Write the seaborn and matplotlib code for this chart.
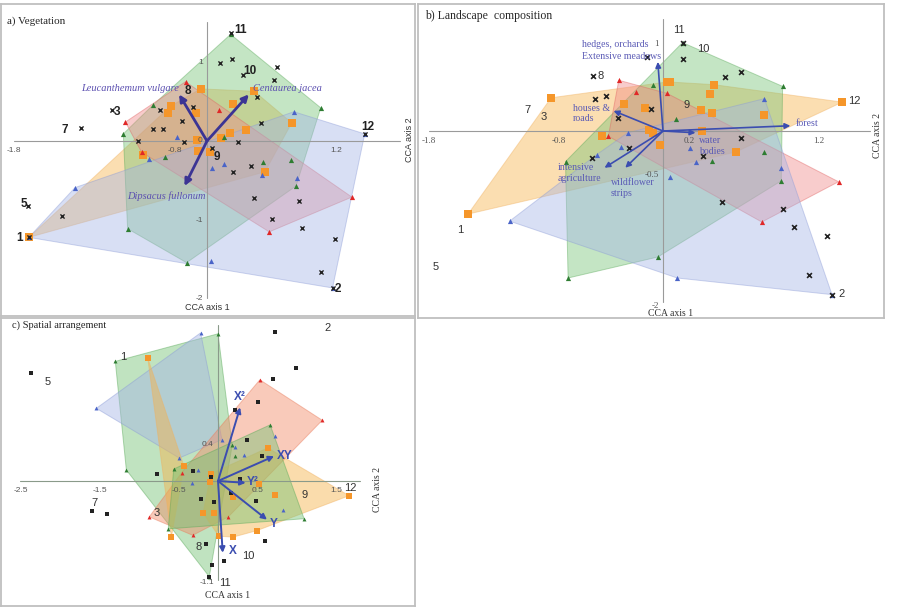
import matplotlib
matplotlib.use("Agg")
import matplotlib.pyplot as plt
import seaborn as sns
import pandas as pd

sns.set_theme(style="white")
SANS = ['Liberation Sans', 'DejaVu Sans']
SERIF = ['Liberation Serif', 'DejaVu Serif']
plt.rcParams['font.family'] = SANS

# ================= DATA =================
# ---- Panel a: Vegetation ----
a_green_x = [0.22, 1.06, 0.83, 0.78, -0.19, -0.74, -0.78, -0.50, 0.16, -0.39, 0.52]
a_green_y = [1.35, 0.42, -0.57, -0.24, -1.54, -1.11, 0.09, 0.46, 0.05, -0.20, -0.27]
a_red_x = [-0.20, 1.35, 0.58, -0.61, -0.76, 0.11]
a_red_y = [0.75, -0.71, -1.15, -0.14, 0.24, 0.39]
a_orange_x = [0.44, -0.06, 0.79, 0.54, -0.60, -1.66, -0.34, -0.36, -0.10, 0.24, 0.36, 0.21, 0.13, -0.09, 0.03, -0.08]
a_orange_y = [0.63, 0.66, 0.23, -0.39, -0.18, -1.22, 0.44, 0.35, 0.35, 0.47, 0.14, 0.10, 0.04, 0.01, -0.14, -0.13]
a_blue_x = [0.81, 1.47, 1.17, -1.66, -1.23, 0.05, 0.16, 0.51, 0.84, 0.04]
a_blue_y = [0.37, 0.09, -1.86, -1.22, -0.59, -0.34, -0.29, -0.43, -0.47, -1.52]
a_blue2_x = [-0.54, -0.28]
a_blue2_y = [-0.23, 0.05]
a_site_x = [0.22, 0.34, 0.12, 0.23, 0.65, 0.62, 0.47, 1.47, -0.89, -1.17, -1.67, -1.66, 1.17, -1.35,
            -0.44, -0.23, -0.50, -0.41, -0.13, -0.64, -0.21, 0.29, 0.50, 0.05, 0.24, 0.41, 0.44, 0.61,
            0.86, 0.89, 1.19, 1.06]
a_site_y = [1.37, 0.84, 0.99, 1.04, 0.94, 0.77, 0.56, 0.09, 0.39, 0.16, -0.82, -1.22, -1.86, -0.95,
            0.39, 0.25, 0.15, 0.15, 0.43, 0.00, -0.01, -0.01, 0.23, -0.09, -0.39, -0.32, -0.72, -0.99,
            -0.76, -1.10, -1.24, -1.66]
a_lab = ["11", "10", "8", "3", "7", "12", "9", "5", "1", "2"]
a_lab_x = [0.31, 0.40, -0.18, -0.84, -1.33, 1.50, 0.09, -1.71, -1.75, 1.22]
a_lab_y = [1.41, 0.89, 0.63, 0.37, 0.14, 0.18, -0.20, -0.80, -1.23, -1.87]
a_arrow_lab = ["Leucanthemum vulgare", "Centaurea jacea", "Dipsacus fullonum"]
a_arrow_x = [-0.26, 0.39, -0.21]
a_arrow_y = [0.59, 0.59, -0.57]
a_arrow_lx = [-0.72, 0.75, -0.38]
a_arrow_ly = [0.67, 0.67, -0.70]
a_xtick = [-1.8, -0.3, 1.2]
a_xtick_lab = ["-1.8", "-0.8", "1.2"]
a_ytick = [1, 0, -1, -2]
a_ytick_lab = ["1", "0", "-1", "-2"]

# ---- Panel b: Landscape composition ----
b_orange_x = [-0.86, -1.50, 1.38, 0.03, 0.05, 0.39, 0.36, -0.30, -0.14, 0.29, 0.38, 0.78, -0.11, -0.08, 0.30, -0.47, -0.02, 0.56]
b_orange_y = [0.38, -0.95, 0.33, 0.56, 0.56, 0.53, 0.42, 0.31, 0.26, 0.24, 0.21, 0.18, 0.01, -0.02, 0.00, -0.06, -0.16, -0.24]
b_green_x = [0.15, 0.92, -0.08, 0.10, 0.78, -0.75, 0.38, 0.91, -0.04, -0.73]
b_green_y = [1.01, 0.51, 0.53, 0.14, -0.24, -0.35, -0.34, -0.57, -1.44, -1.68]
b_red_x = [-0.34, -0.21, 0.03, -0.42, 1.35, 0.76]
b_red_y = [0.58, 0.45, 0.43, -0.06, -0.58, -1.04]
b_blue_x = [0.78, -0.27, -0.32, 0.21, -0.51, 0.25, 0.91, 0.05, -1.18, 0.11, 1.30]
b_blue_y = [0.37, -0.02, -0.18, -0.19, -0.27, -0.35, -0.42, -0.53, -1.03, -1.68, -1.87]
b_site_x = [0.15, 0.15, 0.48, 0.60, -0.54, -0.52, -0.44, -0.09, -0.35, 0.60, -0.26, 0.31, -0.55, 0.45,
            0.92, 1.01, 1.26, 1.12, 1.30, -0.12]
b_site_y = [1.01, 0.82, 0.62, 0.67, 0.63, 0.37, 0.40, 0.25, 0.15, -0.08, -0.19, -0.29, -0.31, -0.81,
            -0.89, -1.10, -1.20, -1.65, -1.87, 0.85]
b_lab = ["11", "10", "8", "7", "3", "9", "12", "1", "5", "2"]
b_lab_x = [0.12, 0.31, -0.48, -1.04, -0.92, 0.18, 1.47, -1.56, -1.75, 1.37]
b_lab_y = [1.15, 0.94, 0.63, 0.24, 0.16, 0.30, 0.34, -1.13, -1.55, -1.86]
b_arrow_x = [-0.04, 0.98, 0.25, -0.38, -0.45, -0.29]
b_arrow_y = [0.79, 0.06, -0.02, 0.23, -0.42, -0.42]
b_arrow_lab = ["hedges, orchards", "Extensive meadows", "forest", "water\nbodies", "houses &\nroads",
               "intensive\nagriculture", "wildflower\nstrips"]
b_arrow_lx = [-0.62, -0.62, 1.02, 0.28, -0.69, -0.81, -0.40]
b_arrow_ly = [0.99, 0.85, 0.09, -0.17, 0.20, -0.48, -0.65]
b_xtick = [-1.8, -0.8, 0.2, 1.2]
b_xtick_lab = ["-1.8", "-0.8", "0.2", "1.2"]
b_ytick = [1, -0.5, -2]
b_ytick_lab = ["1", "-0.5", "-2"]

# ---- Panel c: Spatial arrangement ----
c_green1_x = [0.00, -1.30, -1.16, -0.11, 0.18]
c_green1_y = [1.60, 1.30, 0.12, -1.04, 0.39]
c_green2_x = [0.22, 0.66, 1.09, -0.63, -0.56]
c_green2_y = [0.27, 0.61, -0.41, -0.52, 0.13]
c_blue_x = [-0.22, -1.54, -0.49, 0.05]
c_blue_y = [1.61, 0.79, 0.25, 0.45]
c_blue2_x = [0.72, 0.22, 0.33, -0.25, -0.33, 0.82]
c_blue2_y = [0.49, 0.37, 0.28, 0.12, -0.02, -0.32]
c_red_x = [0.53, 1.32, -0.87, -0.46, -0.32, 0.13]
c_red_y = [1.10, 0.66, -0.39, 0.09, -0.59, -0.39]
c_orange1_x = [-0.89, -0.43, -0.59]
c_orange1_y = [1.34, 0.16, -0.61]
c_orange2_x = [1.66, 0.63, -0.09, -0.10, 0.52, 0.72, 0.19, -0.19, -0.05, 0.49, 0.01, 0.19]
c_orange2_y = [-0.16, 0.36, 0.08, -0.01, -0.03, -0.15, -0.17, -0.35, -0.35, -0.54, -0.60, -0.61]
c_site_x = [0.72, 0.99, 0.70, -2.37, 0.51, 0.22, 0.37, -0.77, -0.32, -0.09, 0.28, 0.56, -0.22, -0.05,
            0.16, 0.48, 0.59, -0.15, 0.08, -0.08, -0.11, -1.59, -1.41]
c_site_y = [1.62, 1.23, 1.11, 1.17, 0.86, 0.77, 0.45, 0.08, 0.11, 0.04, 0.02, 0.27, -0.20, -0.23,
            -0.13, -0.22, -0.65, -0.68, -0.87, -0.91, -1.04, -0.33, -0.36]
c_lab = ["1", "2", "5", "7", "3", "8", "10", "11", "9", "12"]
c_lab_x = [-1.20, 1.39, -2.16, -1.57, -0.77, -0.25, 0.38, 0.09, 1.10, 1.68]
c_lab_y = [1.35, 1.66, 1.08, -0.24, -0.35, -0.72, -0.82, -1.11, -0.15, -0.08]
c_arrow_lab = ["X²", "XY", "Y²", "Y", "X"]
c_arrow_x = [0.28, 0.71, 0.35, 0.62, 0.06]
c_arrow_y = [0.80, 0.27, -0.02, -0.42, -0.78]
c_arrow_lx = [0.28, 0.84, 0.44, 0.70, 0.19]
c_arrow_ly = [0.91, 0.27, -0.01, -0.47, -0.76]
c_xtick = [-2.5, -1.5, -0.5, 0.5, 1.5]
c_xtick_lab = ["-2.5", "-1.5", "-0.5", "0.5", "1.5"]
c_ytick = [0.4, -1.1]
c_ytick_lab = ["0.4", "-1.1"]

# ================= STYLE =================
W, H = 906, 608
FILL = {"green": "#74c274", "blue": "#a4b4e6", "red": "#f08686", "orange": "#f6b247", "salmon": "#f28a66"}
EDGE = {"green": "#58a858", "blue": "#8a9ad6", "red": "#e06060", "orange": "#f0b060", "salmon": "#e87a5a"}
MCOL = {"green": "#2e7d32", "blue": "#4a64c8", "red": "#e02828", "orange": "#f5962a", "salmon": "#e02828"}
MARK = {"green": "^", "blue": "^", "red": "^", "orange": "s", "salmon": "^"}
MSIZE = {"green": 14, "blue": 14, "red": 14, "orange": 26, "salmon": 14}

fig = plt.figure(figsize=(W / 100, H / 100), dpi=100)
fig.patch.set_facecolor("white")


def hull(xs, ys):
    pts = sorted(set(zip(xs, ys)))
    if len(pts) < 3:
        return pts

    def cross(o, a, b):
        return (a[0] - o[0]) * (b[1] - o[1]) - (a[1] - o[1]) * (b[0] - o[0])
    lower, upper = [], []
    for p in pts:
        while len(lower) >= 2 and cross(lower[-2], lower[-1], p) <= 0:
            lower.pop()
        lower.append(p)
    for p in reversed(pts):
        while len(upper) >= 2 and cross(upper[-2], upper[-1], p) <= 0:
            upper.pop()
        upper.append(p)
    return lower[:-1] + upper[:-1]


def make_ax(frame, origin, scale):
    x0, y0, x1, y1 = frame
    ox, oy = origin
    sx, sy = scale
    ax = fig.add_axes([x0 / W, 1 - y1 / H, (x1 - x0) / W, (y1 - y0) / H])
    ax.set_xlim((x0 - ox) / sx, (x1 - ox) / sx)
    ax.set_ylim((oy - y1) / sy, (oy - y0) / sy)
    ax.set_xticks([])
    ax.set_yticks([])
    ax.set_facecolor("none")
    for s in ax.spines.values():
        s.set_color("#bfbfbf")
        s.set_linewidth(1.3)
    return ax


def polys(ax, groups, alpha):
    for key, xs, ys, do_hull in groups:
        if do_hull:
            hp = hull(xs, ys)
            ax.fill([p[0] for p in hp], [p[1] for p in hp], facecolor=FILL[key], alpha=alpha,
                    edgecolor=EDGE[key], linewidth=0.7, zorder=1)


def markers(ax, groups):
    for key, xs, ys, _ in groups:
        sns.scatterplot(x=xs, y=ys, ax=ax, marker=MARK[key], color=MCOL[key], s=MSIZE[key],
                        linewidth=0, zorder=3, legend=False)


def sites(ax, xs, ys, marker="x", s=9, lw=1.0):
    df = pd.DataFrame({"x": xs, "y": ys})
    if marker == "x":
        sns.scatterplot(data=df, x="x", y="y", ax=ax, marker="x", color="#222222", s=s,
                        linewidth=lw, zorder=3, legend=False)
    else:
        sns.scatterplot(data=df, x="x", y="y", ax=ax, marker=marker, color="#222222", s=s,
                        linewidth=0, zorder=3, legend=False)
    ax.set_xlabel("")
    ax.set_ylabel("")


def axes_lines(ax, xr, yr, col="#9a9a9a"):
    ax.plot(xr, [0, 0], color=col, lw=0.8, zorder=2)
    ax.plot([0, 0], yr, color=col, lw=0.8, zorder=2)


def ticks(ax, xt, xl, yt, yl, fam, size=6):
    for v, l in zip(xt, xl):
        ax.annotate(l, (v, 0), xytext=(0, -4), textcoords="offset points", ha="center", va="top",
                    fontsize=size, color="#555555", family=fam, zorder=6)
    for v, l in zip(yt, yl):
        ax.annotate(l, (0, v), xytext=(-3, 0), textcoords="offset points", ha="right", va="center",
                    fontsize=size, color="#555555", family=fam, zorder=6)


def arrows(ax, xs, ys, col, lw, ms):
    for x, y in zip(xs, ys):
        ax.annotate("", xy=(x, y), xytext=(0, 0),
                    arrowprops=dict(arrowstyle="-|>", color=col, lw=lw, mutation_scale=ms,
                                    shrinkA=0, shrinkB=0), zorder=4)


def ftxt(px, py, s, **kw):
    fig.text(px / W, 1 - py / H, s, **kw)


# ================= PANEL A =================
axa = make_ax((1, 4, 415, 316), (207, 141), (107.3, 79))
ga = [("orange", a_orange_x, a_orange_y, True), ("green", a_green_x, a_green_y, True),
      ("red", a_red_x, a_red_y, True), ("blue", a_blue_x, a_blue_y, True),
      ("blue", a_blue2_x, a_blue2_y, False)]
polys(axa, ga, 0.42)
axes_lines(axa, [-1.8, 1.80], [-1.99, 1.51])
markers(axa, ga)
sites(axa, a_site_x, a_site_y, "x", 9, 1.0)
arrows(axa, a_arrow_x, a_arrow_y, "#3c3494", 2.0, 10)
for t, x, y in zip(a_arrow_lab, a_arrow_lx, a_arrow_ly):
    axa.text(x, y, t, ha="center", va="center", fontsize=7.5, style="italic", family=SERIF,
             color="#5b4fb0", zorder=6)
for t, x, y in zip(a_lab, a_lab_x, a_lab_y):
    axa.text(x, y, t, ha="center", va="center", fontsize=8.5, fontweight="bold", color="#222222", zorder=6)
ticks(axa, a_xtick, a_xtick_lab, a_ytick, a_ytick_lab, SANS)
ftxt(7, 21, "a) Vegetation", fontsize=8, family=SERIF, va="center", ha="left")
ftxt(207, 307, "CCA axis 1", fontsize=6.5, family=SANS, ha="center", va="center", color="#333333")
ftxt(410, 140, "CCA axis 2", fontsize=6.5, family=SANS, ha="center", va="center", rotation=90, color="#333333")

# ================= PANEL B =================
axb = make_ax((418, 4, 884, 318), (663, 131), (130, 87.5))
gb = [("orange", b_orange_x, b_orange_y, True), ("green", b_green_x, b_green_y, True),
      ("red", b_red_x, b_red_y, True), ("blue", b_blue_x, b_blue_y, True)]
polys(axb, gb, 0.42)
axes_lines(axb, [-1.8, 1.59], [-1.95, 1.28])
markers(axb, gb)
sites(axb, b_site_x, b_site_y, "x", 12, 1.2)
arrows(axb, b_arrow_x, b_arrow_y, "#3b4db0", 1.2, 8)
for t, x, y in zip(b_arrow_lab, b_arrow_lx, b_arrow_ly):
    axb.text(x, y, t, ha="left", va="center", fontsize=7.1, family=SERIF, color="#5a5ab5",
             linespacing=1.2, zorder=6)
for t, x, y in zip(b_lab, b_lab_x, b_lab_y):
    axb.text(x, y, t, ha="center", va="center", fontsize=8, color="#333333", zorder=6)
ticks(axb, b_xtick, b_xtick_lab, b_ytick, b_ytick_lab, SERIF, 6.5)
ftxt(425, 16, "b) Landscape  composition", fontsize=8.5, family=SERIF, va="center", ha="left")
ftxt(671, 313, "CCA axis 1", fontsize=7, family=SERIF, ha="center", va="center", color="#333333")
ftxt(877, 135, "CCA axis 2", fontsize=7, family=SERIF, ha="center", va="center", rotation=90, color="#333333")

# ================= PANEL C =================
axc = make_ax((1, 318, 415, 606), (218, 481), (79, 92))
gc = [("green", c_green1_x, c_green1_y, True), ("blue", c_blue_x, c_blue_y, True),
      ("salmon", c_red_x, c_red_y, True), ("orange", c_orange1_x, c_orange1_y, True),
      ("orange", c_orange2_x, c_orange2_y, True), ("green", c_green2_x, c_green2_y, True),
      ("blue", c_blue2_x, c_blue2_y, False)]
polys(axc, gc, 0.45)
axes_lines(axc, [-2.51, 1.80], [-1.08, 1.70], col="#8a9a8a")
for key, xs, ys, _ in gc:
    sns.scatterplot(x=xs, y=ys, ax=axc, marker=MARK[key], color=MCOL[key],
                    s=(22 if key == "orange" else 8), linewidth=0, zorder=3, legend=False)
sites(axc, c_site_x, c_site_y, "s", 5)
arrows(axc, c_arrow_x, c_arrow_y, "#3b4db0", 1.4, 8)
for t, x, y in zip(c_arrow_lab, c_arrow_lx, c_arrow_ly):
    axc.text(x, y, t, ha="center", va="center", fontsize=8.5, fontweight="bold", color="#3b4db0", zorder=6)
for t, x, y in zip(c_lab, c_lab_x, c_lab_y):
    axc.text(x, y, t, ha="center", va="center", fontsize=8, color="#333333", zorder=6)
ticks(axc, c_xtick, c_xtick_lab, c_ytick, c_ytick_lab, SANS, 6)
ftxt(12, 325, "c) Spatial arrangement", fontsize=7.5, family=SERIF, va="center", ha="left")
ftxt(228, 596, "CCA axis 1", fontsize=7, family=SERIF, ha="center", va="center", color="#333333")
ftxt(377, 490, "CCA axis 2", fontsize=7, family=SERIF, ha="center", va="center", rotation=90, color="#333333")

fig.savefig("out.png", dpi=100, facecolor="white")
